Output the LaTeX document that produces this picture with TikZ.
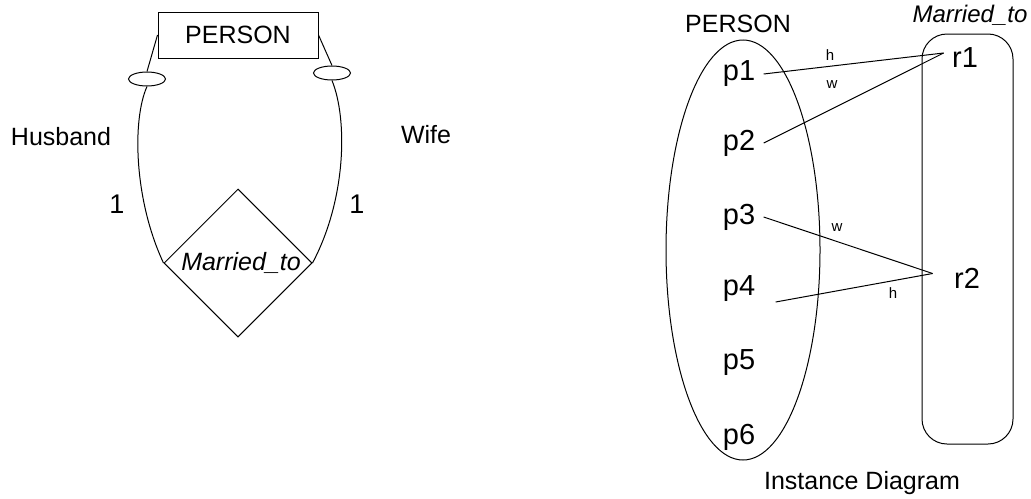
\documentclass[tikz,border=0pt]{standalone}
\usepackage{fontspec}
\setmainfont{Liberation Sans}
\usetikzlibrary{shapes.geometric}
\begin{document}
\begin{tikzpicture}[x=0.5pt, y=-0.5pt, line width=0.5pt,
    every node/.style ={font=\fontsize{12.5}{15}\selectfont},
    entity/.style ={rectangle, draw, minimum width=80pt, minimum height=23pt},
    ring/.style ={ellipse, draw, minimum width=18.5pt, minimum height=7pt, inner sep=0pt},
    relation/.style ={diamond, draw, minimum width=74pt, minimum height=74pt, inner sep=0pt,
      font=\fontsize{12.5}{15}\selectfont\itshape},
    entityset/.style ={ellipse, draw, minimum width=77pt, minimum height=210pt, inner sep=0pt},
    relationset/.style ={rectangle, draw, rounded corners=12.5pt, minimum width=45.5pt, minimum height=205pt},
    member/.style ={inner sep=4pt, font=\fontsize{14.5}{17}\selectfont},
    tag/.style ={font=\fontsize{7.5}{9}\selectfont, inner sep=0pt}]
   \useasboundingbox (0,0) rectangle (1031,498);

   % ER diagram
   \node[entity] (person) at (238,35) {PERSON};
   \node[ring] (hring) at (147,79) {};
   \node[ring] (wring) at (332,73) {};
   \node[relation] (married) at (238,263) {\hspace*{3pt}Married\_to};
   \node (husband) at (61,137) {Husband};
   \node (wife) at (426,135) {Wife};
   \node[font=\fontsize{13.5}{16}\selectfont] (hcard) at (117,204) {1};
   \node[font=\fontsize{13.5}{16}\selectfont] (wcard) at (357,204) {1};

   \draw (person.west) to (hring.north);
   \draw (person.east) to (wring.north);
   \draw (hring.south) .. controls (132,120) and (134,200) .. (married.west);
   \draw (wring.south) .. controls (348,120) and (346,200) .. (married.east);

   % instance diagram
   \node[entityset] (persons) at (743,250) {};
   \node (setname) at (738,24) {PERSON};
   \node[relationset] (pairs) at (967.5,239) {};
   \node[font=\fontsize{12}{14}\selectfont\itshape] (pairname) at (970,15) {Married\_to};
   \foreach \i/\y in {1/74,2/143,3/217,4/289,5/363,6/437}
     \node[member] (p\i) at (739,\y) {p\i};
   \node[member] (r1) at (965,58) {r1};
   \node[member] (r2) at (967,278) {r2};

   \draw (p1.east) to ([yshift=2.5pt]r1.west);
   \draw (p2.east) to ([yshift=2.5pt]r1.west);
   \draw (p3.east) to ([xshift=-6.5pt,yshift=2.25pt]r2.west);
   \draw ([xshift=6pt,yshift=-6.5pt]p4.east) to ([xshift=-6.5pt,yshift=2.25pt]r2.west);

   \node[tag] (h1) at (830,55) {h};
   \node[tag] (w1) at (832,85) {w};
   \node[tag] (w2) at (837,228) {w};
   \node[tag] (h2) at (893,293) {h};
   \node (caption) at (862,483) {Instance Diagram};

 \end{tikzpicture}
\end{document}
